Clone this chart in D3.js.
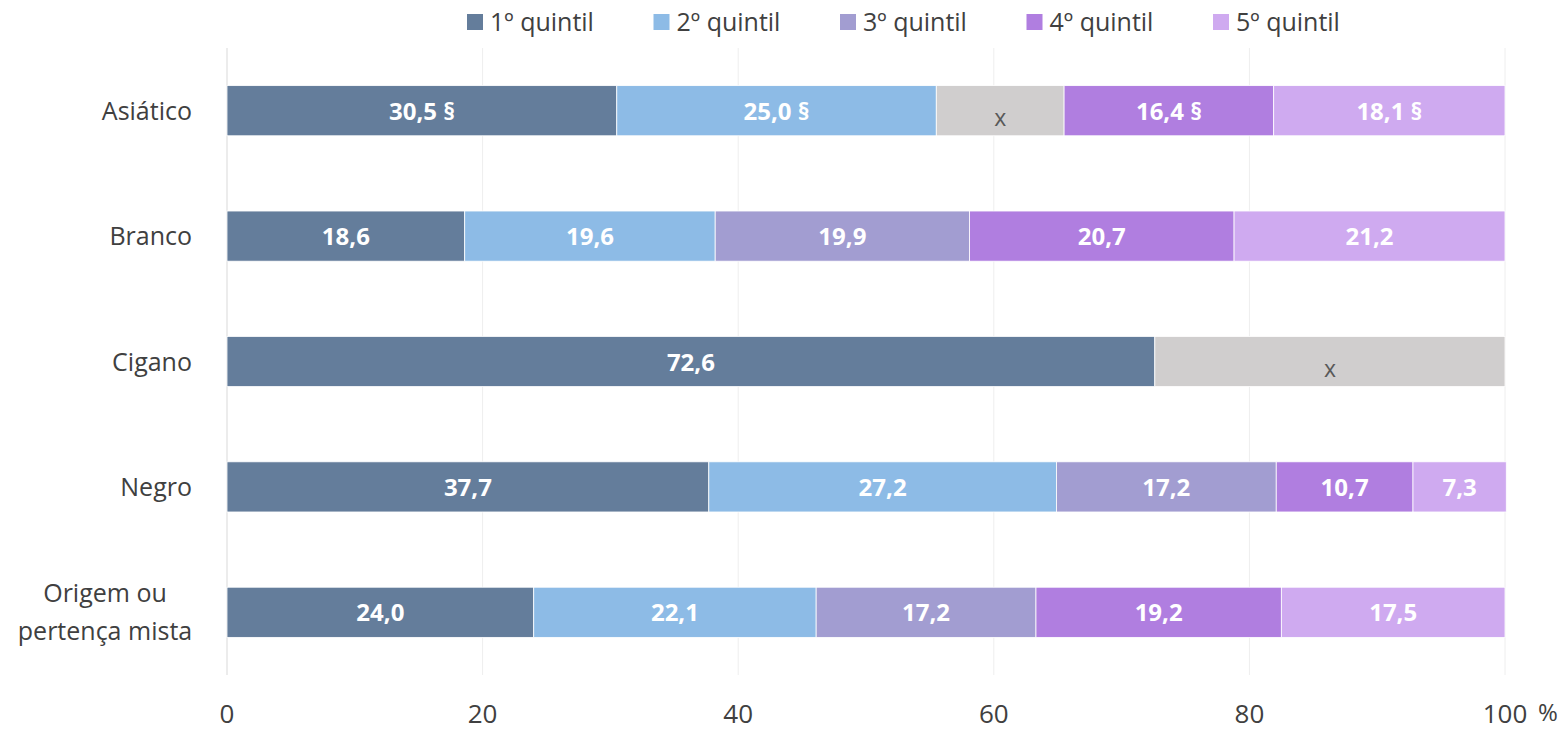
<!DOCTYPE html>
<html lang="pt">
<head>
<meta charset="utf-8">
<title>Quintis por origem</title>
<script src="https://d3js.org/d3.v7.min.js"></script>
<style>
  body { margin: 0; background: #fff; }
  text { font-family: "Open Sans", "Noto Sans", sans-serif; }
</style>
</head>
<body>
<div id="chart"></div>
<script>
// data (null = suppressed value, drawn as grey "x")
const categories = ["Asiático", "Branco", "Cigano", "Negro", "Origem ou pertença mista"];
const series = ["1º quintil", "2º quintil", "3º quintil", "4º quintil", "5º quintil"];
const q1 = [30.5, 18.6, 72.6, 37.7, 24.0];
const q2 = [25.0, 19.6, null, 27.2, 22.1];
const q3 = [null, 19.9, null, 17.2, 17.2];
const q4 = [16.4, 20.7, null, 10.7, 19.2];
const q5 = [18.1, 21.2, null, 7.3, 17.5];
const flagged = ["Asiático"];  // values marked with §
const ticks = [0, 20, 40, 60, 80, 100];

const colors = ["#647d9b", "#8dbbe6", "#a29dd1", "#b07ee0", "#cfaaf0"];
const greyFill = "#d0cece";

const width = 1565, height = 731;
const margin = { top: 48, right: 60, bottom: 56, left: 227 };

const svg = d3.select("#chart").append("svg")
    .attr("width", width)
    .attr("height", height);

const x = d3.scaleLinear().domain([0, 100]).range([margin.left, 1505]);
const y = d3.scaleBand().domain(categories)
    .range([margin.top, height - margin.bottom])
    .paddingInner(0.6).paddingOuter(0.3);

// gridlines
svg.append("g").selectAll("line")
    .data(ticks.slice(1))
    .join("line")
    .attr("x1", d => x(d)).attr("x2", d => x(d))
    .attr("y1", margin.top).attr("y2", height - margin.bottom)
    .attr("stroke", "#eeeeee").attr("stroke-width", 1);

svg.append("line")
    .attr("x1", x(0)).attr("x2", x(0))
    .attr("y1", margin.top).attr("y2", height - margin.bottom)
    .attr("stroke", "#d9d9d9").attr("stroke-width", 1);

// build segments; a missing value turns the rest of the bar into one grey "x"
const all = [q1, q2, q3, q4, q5];
const segs = [];
categories.forEach((c, i) => {
  let start = 0, known = 0;
  all.forEach(s => { if (s[i] != null) known += s[i]; });
  let greyDone = false;
  all.forEach((s, k) => {
    const v = s[i];
    if (v == null) {
      if (!greyDone) {
        segs.push({ cat: c, x0: start, x1: start + (100 - known), grey: true });
        start += 100 - known;
        greyDone = true;
      }
      return;
    }
    segs.push({ cat: c, x0: start, x1: start + v, v: v, k: k, grey: false });
    start += v;
  });
});

const bars = svg.append("g");
bars.selectAll("rect")
    .data(segs)
    .join("rect")
    .attr("x", d => x(d.x0))
    .attr("y", d => y(d.cat))
    .attr("width", d => x(d.x1) - x(d.x0))
    .attr("height", y.bandwidth())
    .attr("fill", d => d.grey ? greyFill : colors[d.k])
    .attr("stroke", "#ffffff")
    .attr("stroke-width", 0.8);

bars.selectAll("text")
    .data(segs)
    .join("text")
    .attr("x", d => (x(d.x0) + x(d.x1)) / 2)
    .attr("y", d => y(d.cat) + y.bandwidth() / 2 + (d.grey ? 15 : 9))
    .attr("text-anchor", "middle")
    .attr("font-size", d => d.grey ? 23 : 24)
    .attr("font-weight", d => d.grey ? 400 : 700)
    .attr("fill", d => d.grey ? "#595959" : "#ffffff")
    .text(d => {
      if (d.grey) return "x";
      const s = d3.format(".1f")(d.v).replace(".", ",");
      return flagged.includes(d.cat) ? s + " §" : s;
    });

// category labels
const catG = svg.append("g");
categories.forEach(c => {
  const cy = y(c) + y.bandwidth() / 2;
  if (c === "Origem ou pertença mista") {
    const t = catG.append("text")
        .attr("text-anchor", "middle")
        .attr("font-size", 25)
        .attr("fill", "#404040");
    t.append("tspan").attr("x", 105).attr("y", cy - 10).text("Origem ou");
    t.append("tspan").attr("x", 105).attr("y", cy + 28).text("pertença mista");
  } else {
    catG.append("text")
        .attr("x", 192)
        .attr("y", cy + 9)
        .attr("text-anchor", "end")
        .attr("font-size", 25)
        .attr("fill", "#404040")
        .text(c);
  }
});

// x tick labels
svg.append("g").selectAll("text")
    .data(ticks)
    .join("text")
    .attr("x", d => x(d))
    .attr("y", 723)
    .attr("text-anchor", "middle")
    .attr("font-size", 26)
    .attr("fill", "#404040")
    .text(d => d);

svg.append("text")
    .attr("x", 1548).attr("y", 721)
    .attr("text-anchor", "middle")
    .attr("font-size", 24)
    .attr("fill", "#404040")
    .text("%");

// legend
const legend = svg.append("g").selectAll("g")
    .data(series)
    .join("g")
    .attr("transform", (d, i) => `translate(${467 + i * 186.5},14)`);

legend.append("rect")
    .attr("width", 16).attr("height", 16)
    .attr("fill", (d, i) => colors[i]);

legend.append("text")
    .attr("x", 23).attr("y", 17)
    .attr("font-size", 25)
    .attr("fill", "#404040")
    .text(d => d);
</script>
</body>
</html>
